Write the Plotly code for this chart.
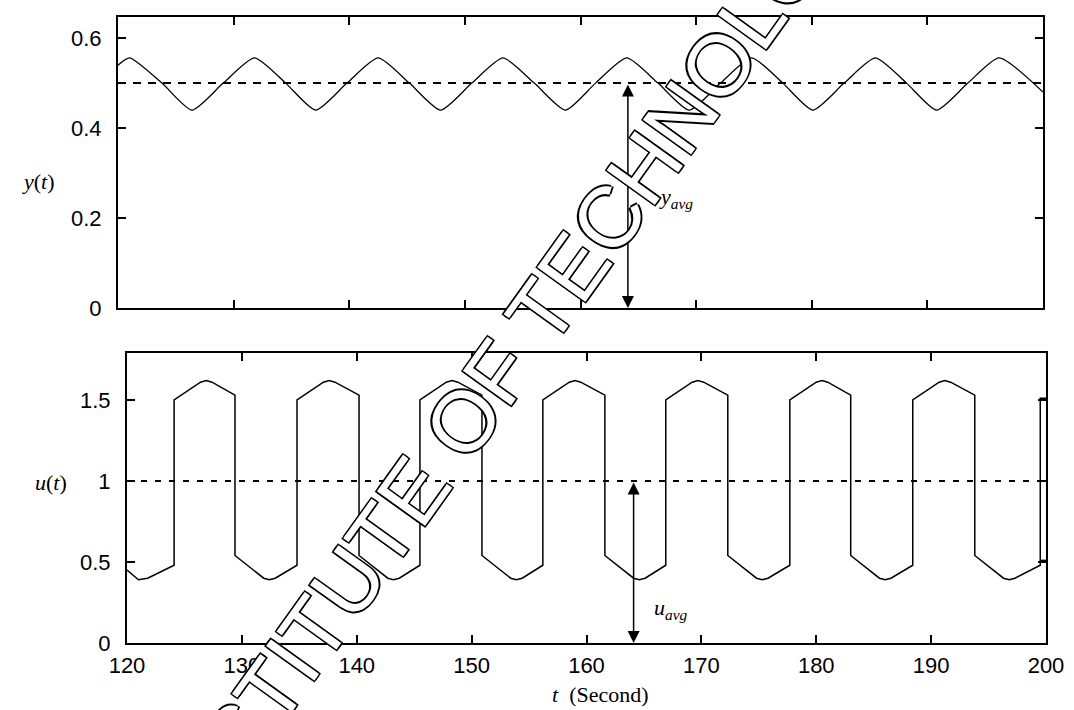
import plotly.graph_objects as go

# ---- data ----
# output y(t): peaks / zero(0.5)-crossings / troughs
y_t = [120.0, 121.0, 123.8, 126.4, 129.1, 131.8, 134.5, 137.1, 139.8, 142.5,
       145.2, 147.9, 150.6, 153.3, 156.0, 158.7, 161.3, 164.0, 166.7, 169.4,
       172.1, 174.8, 177.5, 180.1, 182.8, 185.5, 188.2, 190.8, 193.5, 196.2, 200.0]
y_v = [0.540, 0.556, 0.500, 0.440, 0.500, 0.556, 0.500, 0.440, 0.500, 0.556,
       0.500, 0.440, 0.500, 0.556, 0.500, 0.440, 0.500, 0.556, 0.500, 0.440,
       0.500, 0.556, 0.500, 0.440, 0.500, 0.556, 0.500, 0.440, 0.500, 0.556, 0.480]

# input u(t): relay-like square wave
u_t = [120.0, 121.0, 121.8, 124.1, 124.1, 126.4, 126.9, 127.4, 129.4, 129.4,
       131.9, 132.4, 132.9, 134.8, 134.8, 137.1, 137.6, 138.1, 140.2, 140.2,
       142.7, 143.2, 143.7, 145.5, 145.5, 147.8, 148.3, 148.8, 150.9, 150.9,
       153.4, 153.9, 154.4, 156.2, 156.2, 158.5, 159.0, 159.5, 161.6, 161.6,
       164.1, 164.6, 165.1, 166.9, 166.9, 169.2, 169.7, 170.2, 172.3, 172.3,
       174.8, 175.3, 175.8, 177.7, 177.7, 180.0, 180.5, 181.0, 183.0, 183.0,
       185.5, 186.0, 186.5, 188.4, 188.4, 190.7, 191.2, 191.7, 193.8, 193.8,
       196.3, 196.8, 197.3, 199.5, 199.5, 200.0, None, 199.5, 200.0]
u_v = [0.45, 0.39, 0.40, 0.48, 1.50, 1.61, 1.62, 1.61, 1.53, 0.54,
       0.40, 0.39, 0.40, 0.48, 1.50, 1.61, 1.62, 1.61, 1.53, 0.54,
       0.40, 0.39, 0.40, 0.48, 1.50, 1.61, 1.62, 1.61, 1.53, 0.54,
       0.40, 0.39, 0.40, 0.48, 1.50, 1.61, 1.62, 1.61, 1.53, 0.54,
       0.40, 0.39, 0.40, 0.48, 1.50, 1.61, 1.62, 1.61, 1.53, 0.54,
       0.40, 0.39, 0.40, 0.48, 1.50, 1.61, 1.62, 1.61, 1.53, 0.54,
       0.40, 0.39, 0.40, 0.48, 1.50, 1.61, 1.62, 1.61, 1.53, 0.54,
       0.40, 0.39, 0.40, 0.48, 1.51, 1.51, None, 0.51, 0.51]

y_avg = 0.5
u_avg = 1.0
t_range = [120, 200]
t_avg_marker = 164.1

x_ticks = [120, 130, 140, 150, 160, 170, 180, 190, 200]
y_ticks_top = [0, 0.2, 0.4, 0.6]
y_ticklabels_top = ["0", "0.2", "0.4", "0.6"]
y_ticks_bot = [0, 0.5, 1, 1.5]
y_ticklabels_bot = ["0", "0.5", "1", "1.5"]

W, H = 1074, 710
SANS = "Liberation Sans, Arial, sans-serif"
SERIF = "Liberation Serif, Times New Roman, serif"

fig = go.Figure()

fig.add_trace(go.Scatter(x=y_t, y=y_v, mode="lines", line=dict(color="black", width=1.3, shape="spline", smoothing=0.6),
                         xaxis="x", yaxis="y", showlegend=False))
fig.add_trace(go.Scatter(x=t_range, y=[y_avg, y_avg], mode="lines",
                         line=dict(color="black", width=2, dash="8px,7px"),
                         xaxis="x", yaxis="y", showlegend=False))
fig.add_trace(go.Scatter(x=u_t, y=u_v, mode="lines", line=dict(color="black", width=1.5),
                         connectgaps=False, xaxis="x2", yaxis="y2", showlegend=False))
fig.add_trace(go.Scatter(x=t_range, y=[u_avg, u_avg], mode="lines",
                         line=dict(color="black", width=2, dash="6px,8px"),
                         xaxis="x2", yaxis="y2", showlegend=False))

axis_common = dict(showline=True, linecolor="black", linewidth=2, mirror="ticks",
                   ticks="inside", ticklen=8, tickwidth=1.5, tickcolor="black",
                   showgrid=False, zeroline=False, automargin=False,
                   tickfont=dict(family=SANS, size=22, color="black"))

fig.update_layout(
    width=W, height=H,
    margin=dict(l=0, r=0, t=0, b=0),
    paper_bgcolor="white", plot_bgcolor="white",
    xaxis=dict(domain=[118 / W, 1043 / W], range=t_range, tickvals=x_ticks,
               showticklabels=False, anchor="y", **axis_common),
    yaxis=dict(domain=[1 - 308 / H, 1 - 17 / H], range=[0, 0.647], tickvals=y_ticks_top,
               ticktext=y_ticklabels_top, anchor="x", ticklabelstandoff=10, **axis_common),
    xaxis2=dict(domain=[127 / W, 1046 / W], range=t_range, tickvals=x_ticks,
                anchor="y2", ticklabelstandoff=2, **axis_common),
    yaxis2=dict(domain=[1 - 643 / H, 1 - 353 / H], range=[0, 1.79], tickvals=y_ticks_bot,
                ticktext=y_ticklabels_bot, anchor="x2", ticklabelstandoff=10, **axis_common),
)

ann = []
# axis titles
ann.append(dict(text="<i>y</i>(<i>t</i>)", x=38 / W, y=1 - 181 / H, xref="paper", yref="paper",
                xanchor="center", yanchor="middle",
                showarrow=False, font=dict(family=SERIF, size=22, color="black")))
ann.append(dict(text="<i>u</i>(<i>t</i>)", x=51 / W, y=1 - 482 / H, xref="paper", yref="paper",
                xanchor="center", yanchor="middle",
                showarrow=False, font=dict(family=SERIF, size=22, color="black")))
ann.append(dict(text="<i>t</i>  (Second)", x=600 / W, y=1 - 694 / H, xref="paper", yref="paper",
                xanchor="center", yanchor="middle",
                showarrow=False, font=dict(family=SERIF, size=22, color="black")))
# average arrows
ann.append(dict(x=t_avg_marker, y=0, ax=t_avg_marker, ay=y_avg, xref="x", yref="y", axref="x", ayref="y",
                text="", showarrow=True, arrowhead=2, startarrowhead=2, arrowside="end+start",
                arrowsize=1.6, startarrowsize=1.6, arrowwidth=1.5, arrowcolor="black",
                standoff=0, startstandoff=0))
ann.append(dict(x=t_avg_marker, y=0, ax=t_avg_marker, ay=u_avg, xref="x2", yref="y2", axref="x2", ayref="y2",
                text="", showarrow=True, arrowhead=2, startarrowhead=2, arrowside="end+start",
                arrowsize=1.6, startarrowsize=1.6, arrowwidth=1.5, arrowcolor="black",
                standoff=0, startstandoff=0))
# watermark (drawn before the labels so the labels stay on top)
ann.append(dict(text="INSTITUTE OF TECHNOLOGY", x=524 / W, y=1 - 336 / H, xref="paper", yref="paper",
                xanchor="center", yanchor="middle",
                showarrow=False, textangle=-54.4,
                font=dict(family=SANS, size=86, color="white",
                          shadow="-1.5px -1.5px 0 #000, 1.5px -1.5px 0 #000, -1.5px 1.5px 0 #000, 1.5px 1.5px 0 #000")))
ann.append(dict(text="<i>y</i><sub><i>avg</i></sub>", x=166.6, y=0.245, xref="x", yref="y",
                xanchor="left", yanchor="middle", showarrow=False,
                font=dict(family=SERIF, size=22, color="black")))
ann.append(dict(text="<i>u</i><sub><i>avg</i></sub>", x=165.7, y=0.21, xref="x2", yref="y2",
                xanchor="left", yanchor="middle", showarrow=False,
                font=dict(family=SERIF, size=22, color="black")))
fig.update_layout(annotations=ann)

fig.write_html("out.html")
